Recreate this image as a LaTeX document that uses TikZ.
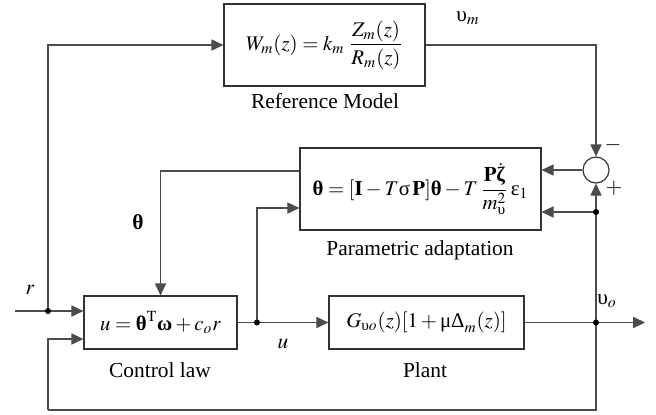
\documentclass[tikz,border=0pt]{standalone}
\usepackage{amsmath}
\usepackage{mathptmx}
\usepackage{fontspec}
\setmainfont{Liberation Serif}
\newfontfamily\tnr{Liberation Serif}
\usetikzlibrary{arrows.meta,calc}
\newcommand{\gk}[1]{\text{\tnr\upshape #1}}
\newcommand{\bgk}[1]{\text{\tnr\bfseries\upshape #1}}
\begin{document}
\begin{tikzpicture}[x=0.5pt,y=-0.5pt,
 every node/.style={font=\tnr\fontsize{10.7}{12.5}\selectfont},
 blk/.style={draw=black!80, line width=0.6pt, inner sep=0pt, font=\tnr\fontsize{10.4}{12.5}\selectfont},
 ln/.style={draw=black!70, line width=0.55pt},
 arr/.style={ln, -{Triangle[length=6pt,width=5.6pt]}},
 dot/.style={circle, fill=black, inner sep=0pt, minimum size=3pt},
 lbl/.style={inner sep=0pt}]
\useasboundingbox (0,0) rectangle (656,414);
\node[blk, minimum width=100.5pt, minimum height=41pt] (refm) at (324.5,45) {$W_m(z)=k_m\;\dfrac{Z_m(z)}{R_m(z)}$};
\node[blk, minimum width=120.5pt, minimum height=41pt] (adapt) at (420.5,189) {$\bgk{θ}=[\mathbf{I}-T\gk{σ}\,\mathbf{P}]\bgk{θ}-T\,\dfrac{\mathbf{P}\dot{\bgk{ζ}}}{m_{\gk{υ}}^{2}}\,\gk{ε}_1$};
\node[blk, minimum width=76.5pt, minimum height=26.5pt] (ctrl) at (160.5,322.5) {$u=\bgk{θ}^{\mathrm{T}}\bgk{ω}+c_o r$};
\node[blk, minimum width=97.5pt, minimum height=26.5pt] (plant) at (426.5,322.5) {$G_{\gk{υ}o}(z)[1+\gk{μΔ}_m(z)]$};
\node[blk, circle, minimum size=13pt] (sum) at (596,170) {};
\coordinate (rin) at (15,311);
\coordinate (rdot) at (48,311);
\coordinate (fbc) at (48,410);
\coordinate (ydot) at (596,322.5);
\coordinate (yend) at (645,322.5);
\coordinate (adot) at (596,212);
\coordinate (udot) at (257,322.5);
\coordinate (thc) at (160.5,171);
\coordinate (uc) at (257,208);
\draw[arr] (rin) -- (rin -| ctrl.west);
\draw[arr] (rdot) |- (refm.west);
\draw[arr] (refm.east) -| (sum.north);
\draw[arr] (sum.west) -- (sum.west -| adapt.east);
\draw[arr] (adot) -- (sum.south);
\draw[arr] (adot) -- (adot -| adapt.east);
\draw[ln] (ydot) -- (adot);
\draw[arr] (plant.east) -- (yend);
\draw[ln] (ydot) |- (fbc);
\draw[arr] (fbc) |- ($(ctrl.west)+(0,16.5)$);
\draw[arr] (ctrl.east) -- (plant.west);
\draw[arr] (udot) |- (uc -| adapt.west);
\draw[arr] (thc -| adapt.west) -| (ctrl.north);
\node[dot] (d1) at (rdot) {};
\node[dot] (d2) at (udot) {};
\node[dot] (d3) at (ydot) {};
\node[dot] (d4) at (adot) {};
\node (lref) at (325,101) {Reference Model};
\node (lad) at (420,250) {Parametric adaptation};
\node (lctrl) at (160,370) {Control law};
\node (lpl) at (425,370) {Plant};
\node (lr) at (30,290) {$r$};
\node (lth) at (138,222) {$\bgk{θ}$};
\node (lu) at (283,344) {$u$};
\node (lyo) at (607,301) {$\gk{υ}_o$};
\node (lym) at (468,18) {$\gk{υ}_m$};
\node (lmin) at (613,145) {$-$};
\node (lplus) at (614,188) {$+$};
\end{tikzpicture}
\end{document}
